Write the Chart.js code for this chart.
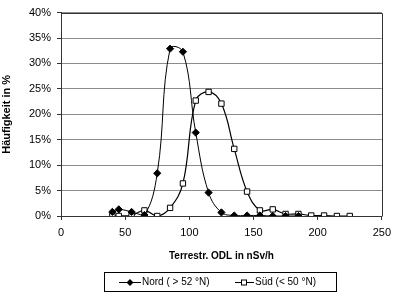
<!DOCTYPE html>
<html>
<head>
<meta charset="utf-8">
<script src="https://cdn.jsdelivr.net/npm/chart.js@4"></script>
<style>
  html, body { margin: 0; padding: 0; background: #fff; }
  #wrap { position: relative; width: 397px; height: 293px; }
  #legend { position: absolute; left: 104px; top: 272px; width: 231px; height: 18px;
    border: 1px solid #000; font-family: "Liberation Sans", Arial, sans-serif; font-size: 10px; color: #000; }
  #legend .item { position: absolute; top: 0; height: 18px; line-height: 18px; white-space: nowrap; }
  #legend svg { position: absolute; top: 0; }
</style>
</head>
<body>
<div id="wrap">
  <canvas id="c" width="397" height="293"></canvas>
  <div id="legend">
    <svg style="left:14px" width="22" height="18"><line x1="0" y1="9.5" x2="22" y2="9.5" stroke="#000" stroke-width="1"/><polygon points="11,6 14.5,9.5 11,13 7.5,9.5" fill="#000"/></svg>
    <span class="item" style="left:37px">Nord ( &gt; 52 °N)</span>
    <svg style="left:130px" width="19" height="18"><line x1="0" y1="9.5" x2="19" y2="9.5" stroke="#000" stroke-width="1"/><rect x="6.5" y="7" width="5" height="5" fill="#fff" stroke="#000" stroke-width="1"/></svg>
    <span class="item" style="left:150px">Süd (&lt; 50 °N)</span>
  </div>
</div>
<script>
const nordX = [40, 45, 55, 65, 75, 85, 95, 105, 115, 125, 135, 145, 155, 165, 175, 185];
const nordY = [0.8, 1.3, 0.8, 0.2, 8.4, 32.9, 32.3, 16.4, 4.6, 0.7, 0.1, 0.1, 0.1, 0.0, 0.0, 0.0];
const suedX = [40, 45, 55, 65, 75, 85, 95, 105, 115, 125, 135, 145, 155, 165, 175, 185, 195, 205, 215, 225];
const suedY = [0.0, 0.0, 0.1, 1.1, 0.0, 1.6, 6.4, 22.7, 24.4, 22.1, 13.2, 4.8, 1.1, 1.3, 0.4, 0.4, 0.1, 0.1, 0.0, 0.0];
const xTicks = [0, 50, 100, 150, 200, 250];
const yTicks = [0, 5, 10, 15, 20, 25, 30, 35, 40];

const toPts = (xs, ys) => xs.map((x, i) => ({ x: x, y: ys[i] }));

const borderPlugin = {
  id: 'plotBorder',
  afterDraw(chart) {
    const { ctx, chartArea: a } = chart;
    ctx.save();
    ctx.strokeStyle = '#333';
    ctx.lineWidth = 1;
    ctx.beginPath();
    ctx.moveTo(Math.round(a.left) + 0.5, Math.round(a.top) + 0.5);
    ctx.lineTo(Math.round(a.right) + 0.5, Math.round(a.top) + 0.5);
    ctx.lineTo(Math.round(a.right) + 0.5, Math.round(a.bottom) + 0.5);
    ctx.stroke();
    ctx.restore();
  }
};

new Chart(document.getElementById('c'), {
  type: 'line',
  data: {
    datasets: [
      {
        label: 'Nord ( > 52 °N)',
        data: toPts(nordX, nordY),
        borderColor: '#000', borderWidth: 1, tension: 0.4,
        pointStyle: 'rectRot', pointRadius: 3.6, pointBackgroundColor: '#000', pointBorderColor: '#000', pointBorderWidth: 1
      },
      {
        label: 'Süd (< 50 °N)',
        data: toPts(suedX, suedY),
        borderColor: '#000', borderWidth: 1.2, tension: 0.4,
        pointStyle: 'rect', pointRadius: 3.8, pointBackgroundColor: '#fff', pointBorderColor: '#000', pointBorderWidth: 1
      }
    ]
  },
  options: {
    responsive: false,
    animation: false,
    events: [],
    layout: { padding: { left: 0, top: 4, right: 10, bottom: 29 } },
    plugins: { legend: { display: false }, tooltip: { enabled: false } },
    scales: {
      x: {
        type: 'linear', min: 0, max: 250,
        afterFit(s) { s.height = 48; },
        afterBuildTicks(s) { s.ticks = xTicks.map(v => ({ value: v })); },
        ticks: { color: '#000', padding: 6, maxRotation: 0, font: { family: 'Liberation Sans', size: 11 } },
        grid: { drawOnChartArea: false, tickLength: 4, tickColor: '#333' },
        border: { color: '#333', width: 1 },
        title: { display: true, text: 'Terrestr. ODL in nSv/h', color: '#000',
          font: { family: 'Liberation Sans', size: 10, weight: 'bold' }, padding: { top: 0, bottom: 2 } }
      },
      y: {
        type: 'linear', min: 0, max: 40,
        afterFit(s) { s.width = 61; },
        afterBuildTicks(s) { s.ticks = yTicks.map(v => ({ value: v })); },
        ticks: { color: '#000', padding: 6, callback: v => v + '%', font: { family: 'Liberation Sans', size: 11 } },
        grid: { color: '#8c8c8c', tickLength: 4, tickColor: '#333' },
        border: { color: '#333', width: 1 },
        title: { display: true, text: 'Häufigkeit in %', color: '#000',
          font: { family: 'Liberation Sans', size: 11, weight: 'bold' }, padding: { top: 0, bottom: 0 } }
      }
    }
  },
  plugins: [borderPlugin]
});
</script>
</body>
</html>
